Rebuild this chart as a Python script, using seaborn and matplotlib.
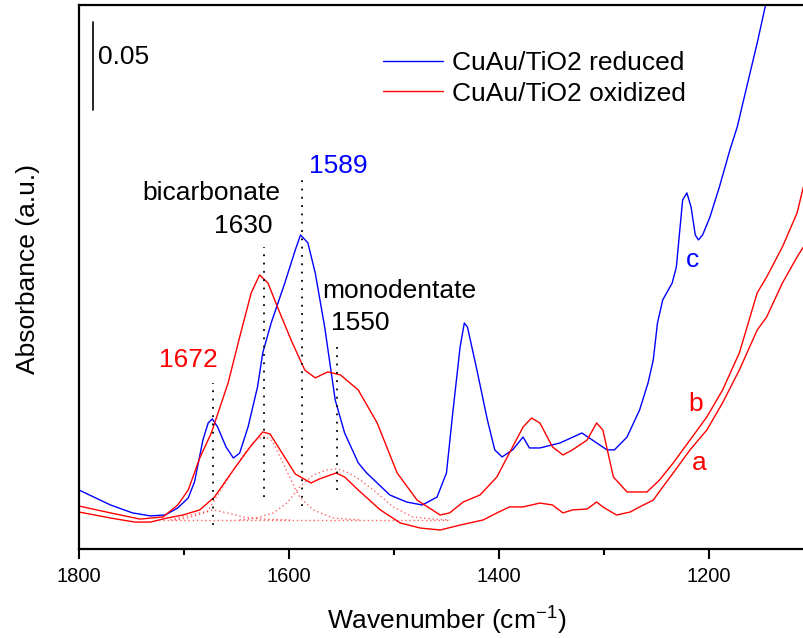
import numpy as np
import pandas as pd
import matplotlib
matplotlib.use("Agg")
import matplotlib.pyplot as plt
from matplotlib.ticker import MultipleLocator
import seaborn as sns

# Espectro c: CuAu/TiO2 reducido
wn_c = [1800, 1770, 1749, 1732, 1718, 1706, 1696, 1690, 1682, 1677, 1673, 1668,
        1660, 1653, 1647, 1639, 1630, 1625, 1617, 1604, 1594, 1589, 1582, 1575,
        1566, 1556, 1547, 1534, 1526, 1504, 1488, 1473, 1459, 1450, 1444, 1437,
        1433, 1430, 1421, 1411, 1404, 1397, 1387, 1377, 1371, 1361, 1342, 1321,
        1311, 1297, 1290, 1278, 1266, 1258, 1253, 1249, 1244, 1235, 1231, 1228,
        1225, 1221, 1217, 1213, 1210, 1206, 1199, 1190, 1180, 1173, 1164, 1154,
        1146, 1132]
abs_c = [0.0335, 0.0250, 0.0205, 0.0188, 0.0193, 0.0233, 0.0290, 0.0381, 0.0619,
         0.0716, 0.0739, 0.0693, 0.0580, 0.0517, 0.0545, 0.0693, 0.0920, 0.1114,
         0.1284, 0.1511, 0.1699, 0.1784, 0.1739, 0.1568, 0.1261, 0.0847, 0.0659,
         0.0489, 0.0432, 0.0307, 0.0267, 0.0250, 0.0295, 0.0432, 0.0773, 0.1148,
         0.1284, 0.1261, 0.1017, 0.0733, 0.0563, 0.0523, 0.0563, 0.0636, 0.0574,
         0.0574, 0.0602, 0.0659, 0.0619, 0.0563, 0.0563, 0.0636, 0.0790, 0.0943,
         0.1074, 0.1284, 0.1415, 0.1511, 0.1602, 0.1795, 0.1983, 0.2023, 0.1943,
         0.1784, 0.1756, 0.1784, 0.1886, 0.2057, 0.2267, 0.2398, 0.2625, 0.2875,
         0.3091, 0.3347]

# Espectro b: CuAu/TiO2 oxidado
wn_b = [1800, 1770, 1742, 1720, 1706, 1696, 1685, 1674, 1658, 1646, 1636, 1628,
        1620, 1611, 1598, 1585, 1575, 1563, 1551, 1534, 1516, 1497, 1478, 1456,
        1447, 1434, 1418, 1402, 1387, 1377, 1369, 1361, 1349, 1339, 1330, 1316,
        1307, 1301, 1291, 1278, 1259, 1247, 1234, 1218, 1202, 1187, 1171, 1154,
        1145, 1130, 1116, 1110]
abs_b = [0.0244, 0.0205, 0.0170, 0.0182, 0.0250, 0.0335, 0.0517, 0.0659, 0.0943,
         0.1227, 0.1455, 0.1557, 0.1511, 0.1375, 0.1187, 0.1017, 0.0972, 0.1006,
         0.0989, 0.0903, 0.0716, 0.0432, 0.0278, 0.0193, 0.0205, 0.0267, 0.0307,
         0.0409, 0.0580, 0.0693, 0.0744, 0.0716, 0.0580, 0.0534, 0.0563, 0.0619,
         0.0716, 0.0676, 0.0409, 0.0324, 0.0324, 0.0392, 0.0489, 0.0619, 0.0750,
         0.0903, 0.1114, 0.1455, 0.1545, 0.1716, 0.1909, 0.2057]

# Espectro a: CuAu/TiO2 oxidado
wn_a = [1800, 1770, 1747, 1732, 1716, 1701, 1685, 1671, 1653, 1637, 1625, 1618,
        1609, 1594, 1579, 1571, 1555, 1547, 1534, 1513, 1494, 1475, 1456, 1437,
        1415, 1402, 1390, 1377, 1361, 1349, 1339, 1330, 1316, 1307, 1301, 1288,
        1275, 1266, 1253, 1244, 1234, 1218, 1202, 1187, 1171, 1154, 1145, 1130,
        1116, 1110]
abs_a = [0.0210, 0.0176, 0.0153, 0.0153, 0.0176, 0.0193, 0.0222, 0.0295, 0.0449,
         0.0580, 0.0665, 0.0653, 0.0568, 0.0426, 0.0375, 0.0398, 0.0432, 0.0409,
         0.0335, 0.0222, 0.0148, 0.0119, 0.0108, 0.0136, 0.0165, 0.0205, 0.0239,
         0.0239, 0.0261, 0.0250, 0.0205, 0.0222, 0.0227, 0.0267, 0.0239, 0.0193,
         0.0210, 0.0239, 0.0278, 0.0352, 0.0432, 0.0563, 0.0676, 0.0830, 0.1017,
         0.1244, 0.1318, 0.1511, 0.1659, 0.1716]

# Componentes del ajuste (punteadas)
wn_base = [1720, 1449]
abs_base = [0.0165, 0.0165]
wn_p1672 = [1713, 1701, 1685, 1672, 1659, 1644, 1625, 1599]
abs_p1672 = [0.0165, 0.0182, 0.0205, 0.0222, 0.0205, 0.0182, 0.0170, 0.0165]
wn_p1630 = [1709, 1697, 1678, 1665, 1651, 1642, 1632, 1624, 1616, 1607, 1598,
            1590, 1577, 1558, 1532]
abs_p1630 = [0.0165, 0.0176, 0.0210, 0.0335, 0.0466, 0.0545, 0.0619, 0.0642,
             0.0614, 0.0506, 0.0392, 0.0295, 0.0222, 0.0176, 0.0165]
wn_p1550 = [1647, 1631, 1615, 1602, 1590, 1577, 1564, 1554, 1545, 1532, 1516,
            1501, 1482, 1463, 1447]
abs_p1550 = [0.0165, 0.0176, 0.0205, 0.0261, 0.0352, 0.0420, 0.0449, 0.0455,
             0.0438, 0.0392, 0.0318, 0.0239, 0.0182, 0.0170, 0.0165]

# Líneas verticales de referencia
marcas_wn = [1672, 1624, 1588, 1554]
marcas_top = [0.0943, 0.1716, 0.2125, 0.1176]
marcas_bot = [0.0136, 0.0295, 0.0244, 0.0335]

AZUL = (0, 0, 1)
ROJO = (1, 0, 0)

sns.set_style("white")
plt.rcParams['font.family'] = ['Liberation Sans', 'DejaVu Sans']
plt.rcParams['mathtext.default'] = 'regular'
plt.rcParams['text.color'] = 'black'
plt.rcParams['axes.labelcolor'] = 'black'
plt.rcParams['xtick.color'] = 'black'

fig = plt.figure(figsize=(8.04, 6.38), dpi=100)
ax = fig.add_axes([0.0983, 0.1395, 0.914, 0.852])

# Curvas principales
kw = dict(sort=False, estimator=None, lw=1.0, ax=ax, solid_joinstyle='round')
sns.lineplot(x=wn_c, y=abs_c, color=AZUL, label='CuAu/TiO2 reduced', **kw)
sns.lineplot(x=wn_b, y=abs_b, color=ROJO, label='CuAu/TiO2 oxidized', **kw)
sns.lineplot(x=wn_a, y=abs_a, color=ROJO, label='_a', **kw)

# Componentes del ajuste
for xs, ys in [(wn_base, abs_base), (wn_p1672, abs_p1672),
               (wn_p1630, abs_p1630), (wn_p1550, abs_p1550)]:
    ax.plot(xs, ys, color=ROJO, lw=1.0, ls=(0, (1, 2)), alpha=0.6)

ax.vlines(marcas_wn, marcas_bot, marcas_top, colors='black', lw=1.3,
          linestyles=[(0, (1, 3.6))])

# Barra de escala
ax.plot([1786.7, 1786.7], [0.2494, 0.2994], color='black', lw=1.2)
ax.text(1782, 0.2795, '0.05', fontsize=19, ha='left', va='center')

# Anotaciones
fs = 19
ax.text(1674, 0.2023, 'bicarbonate', fontsize=fs, ha='center', va='center')
ax.text(1644, 0.1835, '1630', fontsize=fs, ha='center', va='center')
ax.text(1553, 0.2176, '1589', fontsize=fs, ha='center', va='center', color=AZUL)
ax.text(1568, 0.1466, 'monodentate', fontsize=fs, ha='left', va='center')
ax.text(1532, 0.1284, '1550', fontsize=fs, ha='center', va='center')
ax.text(1696, 0.1074, '1672', fontsize=fs, ha='center', va='center', color=ROJO)
ax.text(1216, 0.1642, 'c', fontsize=fs, ha='center', va='center', color=AZUL)
ax.text(1213, 0.0824, 'b', fontsize=fs, ha='center', va='center', color=ROJO)
ax.text(1209, 0.0489, 'a', fontsize=fs, ha='center', va='center', color=ROJO)

# Ejes
ax.set_xlim(1800, 1100)
ax.set_ylim(0, 0.3088)
ax.xaxis.set_major_locator(MultipleLocator(200))
ax.xaxis.set_minor_locator(MultipleLocator(100))
ax.set_yticks([])
ax.tick_params(axis='x', which='major', direction='out', length=7, width=1.5,
               labelsize=14.5, pad=6, bottom=True)
ax.tick_params(axis='x', which='minor', direction='out', length=4, width=1.5,
               bottom=True)
for sp in ax.spines.values():
    sp.set_linewidth(1.6)
    sp.set_color('black')

ax.set_xlabel('Wavenumber (cm$^{-1}$)', fontsize=19)
ax.set_ylabel('Absorbance (a.u.)', fontsize=19)
ax.xaxis.set_label_coords(0.5007, -0.103)
ax.yaxis.set_label_coords(-0.053, 0.515)

handles, labels = ax.get_legend_handles_labels()
ax.legend(handles[:2], labels[:2], loc='center left',
          bbox_to_anchor=(0.4136, 0.8658), frameon=False, fontsize=19,
          borderpad=0, borderaxespad=0, handlelength=2.27, handletextpad=0.34,
          labelspacing=0.25)

plt.savefig('out.png', dpi=100)
